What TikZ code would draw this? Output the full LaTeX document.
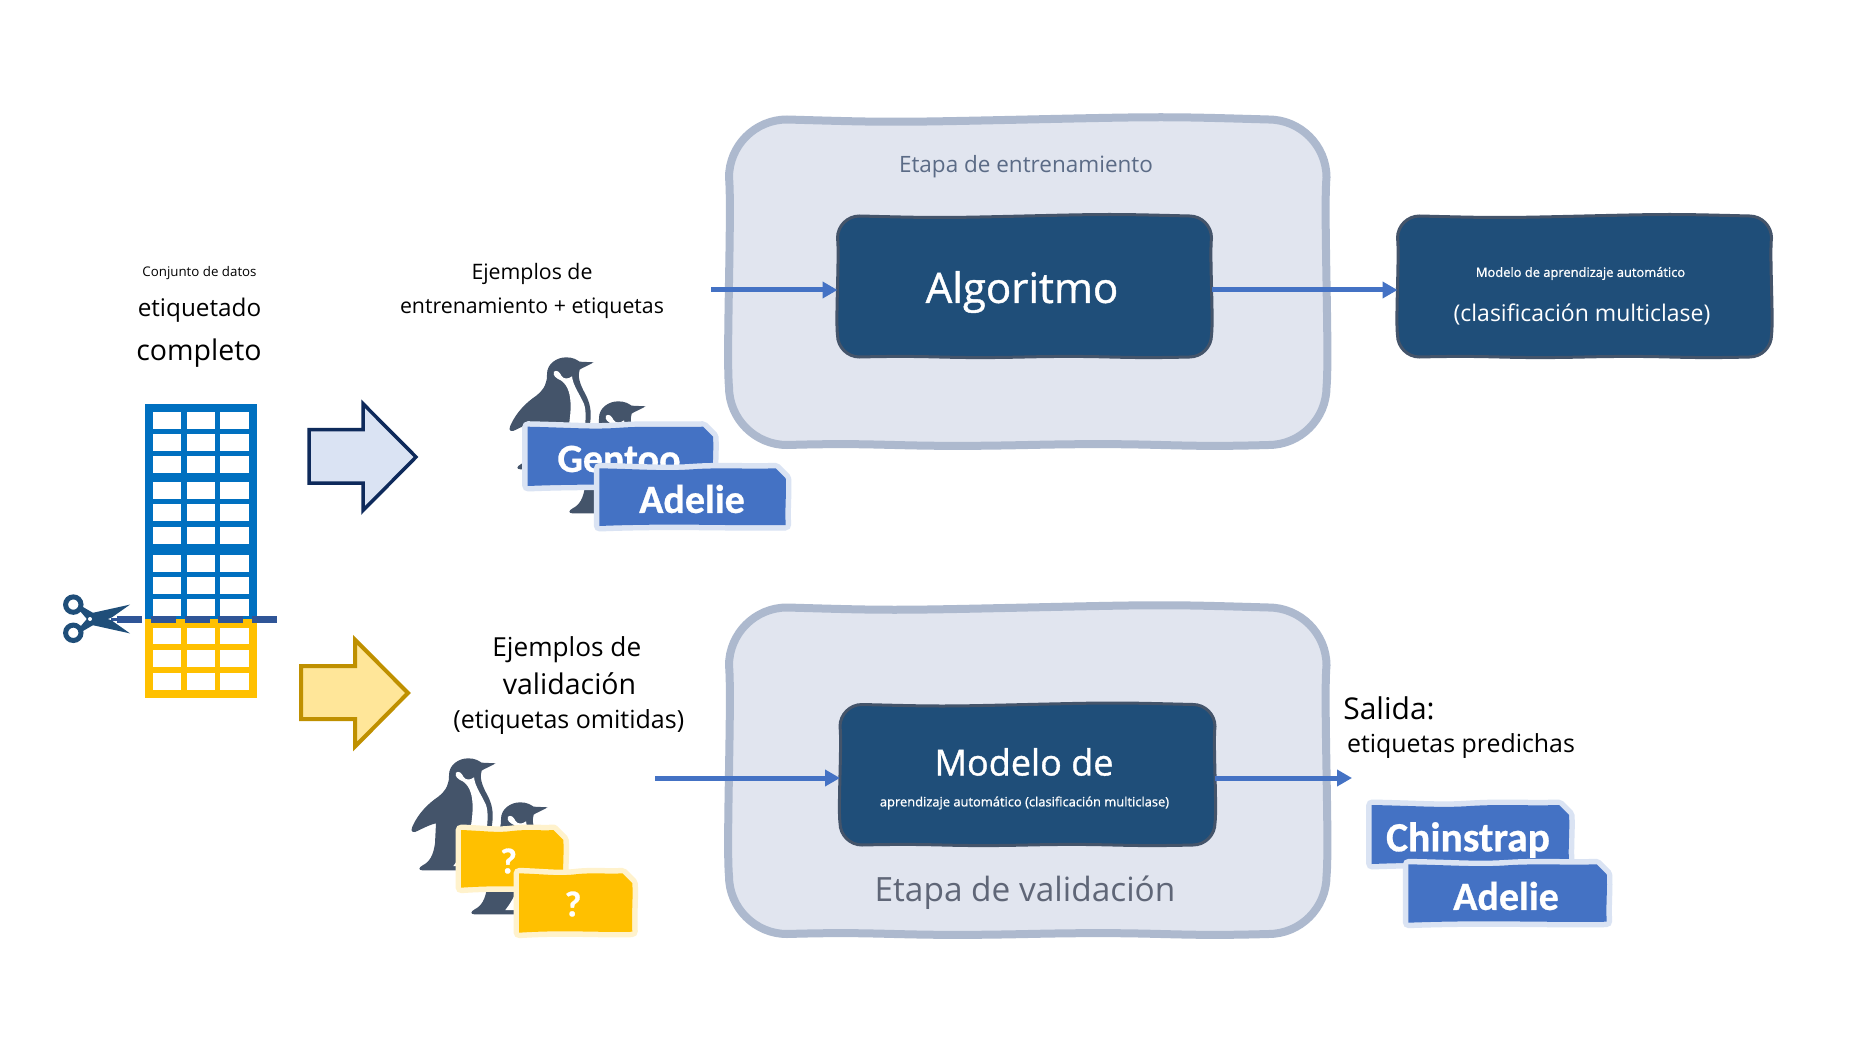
\documentclass[tikz,border=0pt]{standalone}
\usepackage{fontspec}
\setmainfont{Open Sans}
\newfontfamily\medfont{Open Sans}[FakeBold=1]
\newfontfamily\lblfont{Carlito}[BoldFont={Carlito Bold},BoldFeatures={FakeBold=0.7}]
\usetikzlibrary{arrows.meta}
\definecolor{panelfill}{HTML}{E1E5EF}
\definecolor{panelline}{HTML}{ADB9CE}
\definecolor{darkbox}{HTML}{1F4E79}
\definecolor{darkline}{HTML}{44546A}
\definecolor{flow}{HTML}{4472C4}
\definecolor{tblue}{HTML}{0070C0}
\definecolor{tyellow}{HTML}{FFC000}
\definecolor{cutline}{HTML}{2F5597}
\definecolor{paleblue}{HTML}{DAE3F3}
\definecolor{paleyellow}{HTML}{FFF2CC}
\definecolor{peng}{HTML}{44546A}
\definecolor{scis}{HTML}{1F4E79}
\definecolor{stage}{HTML}{5B6B86}
\definecolor{stageb}{HTML}{5F6677}
\newcommand{\fsz}[1]{\fontsize{#1}{#1}\selectfont}
\tikzset{
  panel/.style={draw=panelline,fill=panelfill,line width=8pt},
  dbox/.style={draw=darkline,fill=darkbox,line width=3pt},
  flowarrow/.style={draw=flow,line width=5pt,-{Triangle[length=15pt,width=16pt]}},
  txt/.style={inner sep=0pt,outer sep=0pt,text=black},
  wtxt/.style={inner sep=0pt,outer sep=0pt,text=white},
  lbltxt/.style={inner sep=0pt,outer sep=0pt,text=white},
  anchorbox/.style={inner sep=0pt,outer sep=0pt},
}
% hand-drawn rounded box: name, style, x0 y0 x1 y1, radius, wave amplitude
\newcommand{\wbox}[8]{%
  \pgfmathsetmacro{\wbw}{#5-#3}\pgfmathsetmacro{\wbh}{#6-#4}%
  \pgfmathsetmacro{\wbcx}{(#5+#3)/2}\pgfmathsetmacro{\wbcy}{(#6+#4)/2}%
  \pgfmathsetmacro{\wbl}{#3+#7}\pgfmathsetmacro{\wbr}{#5-#7}%
  \pgfmathsetmacro{\wbt}{#4+#7}\pgfmathsetmacro{\wbb}{#6-#7}%
  \pgfmathsetmacro{\wbqa}{#3+.27*\wbw}\pgfmathsetmacro{\wbqb}{#3+.73*\wbw}%
  \pgfmathsetmacro{\wbra}{#4+.27*\wbh}\pgfmathsetmacro{\wbrb}{#4+.73*\wbh}%
  \path[#2] (\wbl,#4)
    .. controls (\wbqa,{#4+#8}) and (\wbqa,{#4+#8}) .. (\wbcx,#4)
    .. controls (\wbqb,{#4-#8}) and (\wbqb,{#4-#8}) .. (\wbr,#4)
    .. controls ({#5-.45*#7},#4) and (#5,{#4+.45*#7}) .. (#5,\wbt)
    .. controls ({#5-#8},\wbra) and ({#5+#8},\wbrb) .. (#5,\wbb)
    .. controls (#5,{#6-.45*#7}) and ({#5-.45*#7},#6) .. (\wbr,#6)
    .. controls (\wbqb,{#6+#8}) and (\wbqb,{#6-#8}) .. (\wbcx,#6)
    .. controls (\wbqa,{#6+#8}) and (\wbqa,{#6-#8}) .. (\wbl,#6)
    .. controls ({#3+.45*#7},#6) and (#3,{#6-.45*#7}) .. (#3,\wbb)
    .. controls ({#3-#8},\wbrb) and ({#3+#8},\wbra) .. (#3,\wbt)
    .. controls (#3,{#4+.45*#7}) and ({#3+.45*#7},#4) .. (\wbl,#4) -- cycle;
  \node[anchorbox,minimum width=\wbw pt,minimum height=\wbh pt] (#1) at (\wbcx,\wbcy) {};}
% wavy name-tag shape: corners x0 y0 x1 y1, fill, border
\newcommand{\tagshape}[6]{%
  \pgfmathsetmacro{\tgw}{#3-#1}\pgfmathsetmacro{\tgh}{#4-#2}%
  \path[fill=#5,preaction={draw=#6,line width=11pt,line join=round}]
   (#1,#2) .. controls ({#1+.25*\tgw},{#2+1}) and ({#1+.35*\tgw},{#2+3}) .. ({#1+.5*\tgw},{#2+1})
   .. controls ({#1+.65*\tgw},{#2-1}) and ({#1+.8*\tgw},{#2+1}) .. ({#3-10},{#2})
   -- (#3,{#2+10})
   .. controls ({#3+1},{#2+.4*\tgh}) and ({#3-1},{#2+.7*\tgh}) .. (#3,#4)
   .. controls ({#1+.7*\tgw},{#4+1}) and ({#1+.4*\tgw},{#4-2}) .. (#1,{#4+1}) -- cycle;}
% penguin drawn in 1/3 px units
\newcommand{\penguin}[2]{%
 \begin{scope}[shift={(#1,#2)},x=.33333pt,y=-.33333pt]
  \fill[peng] (287,70) .. controls (270,80) and (255,85) .. (245,92)
    .. controls (238,110) and (245,135) .. (262,165)
    .. controls (275,190) and (282,215) .. (276,255)
    -- (262,320) -- (225,378) .. controls (222,388) and (215,391) .. (205,391)
    -- (68,391) .. controls (55,391) and (55,383) .. (68,376)
    .. controls (90,365) and (100,345) .. (105,310) -- (108,250)
    .. controls (85,255) and (60,270) .. (45,276)
    .. controls (33,278) and (33,268) .. (38,258)
    .. controls (55,220) and (85,190) .. (115,170)
    .. controls (140,150) and (148,130) .. (147,105)
    .. controls (147,75) and (175,55) .. (205,55)
    .. controls (225,55) and (235,62) .. (245,68) -- cycle;
  \fill[white] (168,98) .. controls (163,110) and (175,118) .. (190,125)
    .. controls (210,140) and (218,165) .. (218,205)
    .. controls (216,260) and (205,320) .. (160,378) -- (200,378)
    -- (255,290) .. controls (265,250) and (265,215) .. (258,195)
    .. controls (245,165) and (225,140) .. (222,112)
    .. controls (210,122) and (195,120) .. (190,110)
    .. controls (185,98) and (175,92) .. (168,98) -- cycle;
 \end{scope}}
\begin{document}
\begin{tikzpicture}[x=1pt,y=-1pt]
\useasboundingbox (0,0) rectangle (1876,1064);
\fill[white] (0,0) rectangle (1876,1064);

% panels
\wbox{trainpanel}{panel}{729}{119.5}{1326.5}{445}{58}{3}
\wbox{valpanel}{panel}{729}{607.5}{1326.5}{934}{58}{3}
\node[txt,text=stage,font=\fsz{22.5}] (traintitle) at (1026,166.5) {Etapa de entrenamiento};
\node[txt,text=stageb,font=\fsz{33.4}] (valtitle) at (1025,892.5) {Etapa de validación};

% dark boxes
\wbox{algo}{dbox}{837.5}{216}{1211.5}{357}{22}{2}
\node[wtxt,font=\medfont\fsz{42}] (algotxt) at (1022,292) {Algoritmo};
\wbox{model}{dbox}{1397.5}{216}{1771.5}{357}{22}{2}
\node[wtxt,font=\medfont\fsz{12.9}] (modeltxta) at (1580.5,273.5) {Modelo de aprendizaje automático};
\node[wtxt,font=\fsz{23}] (modeltxtb) at (1582,315) {(clasificación multiclase)};
\wbox{trained}{dbox}{840}{704.5}{1215}{845}{22}{2}
\node[wtxt,font=\medfont\fsz{36}] (trainedtxta) at (1024,762) {Modelo de};
\node[wtxt,font=\medfont\fsz{12.9}] (trainedtxtb) at (1024.5,803) {aprendizaje automático (clasificación multiclase)};

% connectors
\coordinate (trainin) at (711,290);
\coordinate (valin) at (655,778);
\coordinate (valout) at (1352,778);
\draw[flowarrow] (trainin) -- (trainin -| algo.west);
\draw[flowarrow] (algo.east |- trainin) -- (model.west |- trainin);
\draw[flowarrow] (valin) -- (valin -| trained.west);
\draw[flowarrow] (trained.east |- valout) -- (valout);

% left texts
\node[txt,font=\fsz{13.3}] (t1) at (199.5,273) {Conjunto de datos};
\node[txt,font=\fsz{24.3}] (t2) at (199.5,310.5) {etiquetado};
\node[txt,font=\fsz{28.5}] (t3) at (199,353) {completo};
\node[txt,font=\fsz{21.3}] (t4) at (532,273.5) {Ejemplos de};
\node[txt,font=\fsz{21.3}] (t5) at (532,308.5) {entrenamiento + etiquetas};
\node[txt,font=\fsz{26.2}] (t6) at (566.8,649.2) {Ejemplos de};
\node[txt,font=\fsz{28.5}] (t7) at (569.5,684) {validación};
\node[txt,font=\fsz{25}] (t8) at (568.8,722.2) {(etiquetas omitidas)};
\node[txt,font=\fsz{30}] (t9) at (1389,708) {Salida:};
\node[txt,font=\fsz{24.9}] (t10) at (1461,746.2) {etiquetas predichas};

% table
\fill[tblue] (145,403.7) rectangle (257,619);
\fill[tyellow] (145,619) rectangle (257,697.6);
\foreach \xa/\xb in {153/181,186.5/215,220/248.5}{
  \foreach \ya/\yb in {411.6/428.5,433.7/450.9,456/473.3,482.3/498.8,504/521.2,526.7/543.9,555/571.5,577/594.2,599.4/616.3,627.7/644.2,650/667.3,672.5/689.7}{
    \fill[white] (\xa,\ya) rectangle (\xb,\yb);
  }
}
% cut line and scissors
\coordinate (cuta) at (117.3,619);
\coordinate (cutb) at (277,619);
\draw[cutline,line width=7pt,dash pattern=on 25pt off 8.7pt] (cuta) -- (cutb);
\draw[cutline,line width=3pt] (111,619) -- (cuta);
\draw[scis,line width=5pt] (73.3,604.6) circle (7.7pt);
\draw[scis,line width=5pt] (73.3,632.8) circle (7.7pt);
\fill[scis] (80,627) -- (92,613) -- (130,604.6) -- (111.7,617.5) -- (95,624) -- (83,631) -- cycle;
\fill[scis] (80,611) -- (92,625) -- (130,633.4) -- (111.7,620.5) -- (95,614) -- (83,607) -- cycle;
\fill[white] (90,619) circle (2pt);

% big arrows
\draw[draw={rgb,255:red,14;green,42;blue,91},fill=paleblue,line width=3.5pt,line join=miter] (309,429.5) -- (363,429.5) -- (363,403.7) -- (416,457) -- (363,510.5) -- (363,483) -- (309,483) -- cycle;
\draw[draw={rgb,255:red,191;green,144;blue,0},fill={rgb,255:red,255;green,230;blue,153},line width=4pt,line join=miter] (301,666) -- (355,666) -- (355,639.7) -- (408,693) -- (355,746.6) -- (355,719) -- (301,719) -- cycle;

% training penguins and tags
\penguin{498}{339}
\penguin{550}{383}
\tagshape{527.7}{426.7}{713}{485}{flow}{paleblue}
\node[lbltxt,font=\lblfont\bfseries\fsz{40}] (gentoo) at (619,459) {Gentoo};
\tagshape{599.3}{468.3}{785.7}{525}{flow}{paleblue}
\node[lbltxt,font=\lblfont\bfseries\fsz{40}] (adelie) at (692,499) {Adelie};

% validation penguins and tags
\penguin{400}{740}
\penguin{452}{784}
\tagshape{461}{830}{563.3}{886.7}{tyellow}{paleyellow}
\node[lbltxt,font=\lblfont\bfseries\fsz{36}] (q1) at (508.5,861) {?};
\tagshape{519}{873.3}{632.3}{931.7}{tyellow}{paleyellow}
\node[lbltxt,font=\lblfont\bfseries\fsz{36}] (q2) at (573,904) {?};

% output tags
\tagshape{1371.7}{805}{1569}{863}{flow}{paleblue}
\node[lbltxt,font=\lblfont\bfseries\fsz{41.5}] (chinstrap) at (1468,840) {Chinstrap};
\tagshape{1408.3}{864.3}{1606.7}{921.7}{flow}{paleblue}
\node[lbltxt,font=\lblfont\bfseries\fsz{40}] (adelieb) at (1506,896) {Adelie};
\end{tikzpicture}
\end{document}
